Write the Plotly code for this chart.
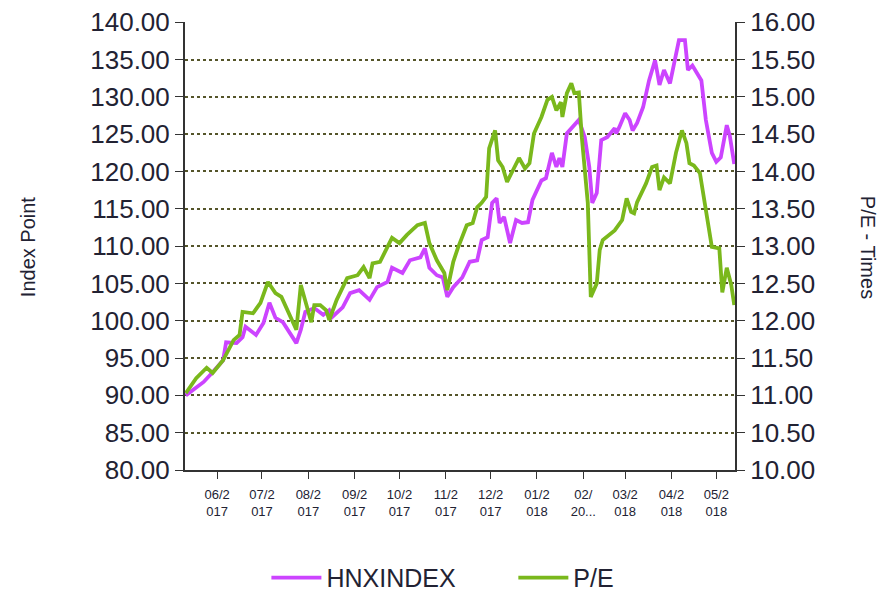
import plotly.graph_objects as go

hnx_dates = [
    "2017-05-11", "2017-05-23", "2017-05-29", "2017-06-05", "2017-06-07", "2017-06-14",
    "2017-06-18", "2017-06-20", "2017-06-27", "2017-07-02", "2017-07-06", "2017-07-10",
    "2017-07-15", "2017-07-20", "2017-07-24", "2017-07-27", "2017-07-30", "2017-08-05",
    "2017-08-11", "2017-08-15", "2017-08-17", "2017-08-24", "2017-08-29", "2017-09-04",
    "2017-09-11", "2017-09-16", "2017-09-23", "2017-09-26", "2017-10-03", "2017-10-08",
    "2017-10-15", "2017-10-18", "2017-10-21", "2017-10-26", "2017-10-30", "2017-11-02",
    "2017-11-06", "2017-11-12", "2017-11-17", "2017-11-22", "2017-11-25", "2017-11-29",
    "2017-12-02", "2017-12-05", "2017-12-07", "2017-12-10", "2017-12-14", "2017-12-18",
    "2017-12-22", "2017-12-26", "2017-12-29", "2018-01-04", "2018-01-07", "2018-01-11",
    "2018-01-14", "2018-01-16", "2018-01-18", "2018-01-21", "2018-01-26", "2018-01-29",
    "2018-02-02", "2018-02-05", "2018-02-07", "2018-02-10", "2018-02-13", "2018-02-17",
    "2018-02-22", "2018-02-23", "2018-02-25", "2018-03-01", "2018-03-04", "2018-03-06",
    "2018-03-09", "2018-03-13", "2018-03-17", "2018-03-21", "2018-03-24", "2018-03-27",
    "2018-03-31", "2018-04-03", "2018-04-06", "2018-04-10", "2018-04-12", "2018-04-15",
    "2018-04-18", "2018-04-21", "2018-04-24", "2018-04-28", "2018-05-01", "2018-05-04",
    "2018-05-08", "2018-05-10", "2018-05-13",
]
hnx_values = [
    90.0, 91.8, 93.1, 94.7, 97.1, 97.0,
    97.8, 99.2, 98.1, 99.7, 102.4, 100.4,
    99.8, 98.3, 97.0, 98.8, 101.2, 101.7,
    100.8, 101.4, 100.5, 101.8, 103.7, 104.1,
    102.8, 104.5, 105.2, 107.1, 106.4, 108.1,
    108.5, 109.7, 107.1, 106.1, 105.8, 103.2,
    104.5, 105.8, 107.9, 108.1, 110.8, 111.2,
    115.8, 116.4, 113.1, 113.9, 110.4, 113.5,
    113.1, 113.2, 116.2, 118.8, 119.1, 122.5,
    120.6, 121.8, 120.6, 125.1, 126.2, 126.9,
    124.6, 120.6, 115.8, 117.1, 124.2, 124.6,
    125.8, 125.1, 125.9, 127.8, 126.9, 125.5,
    126.5, 128.6, 132.2, 134.9, 131.6, 133.6,
    131.8, 134.9, 137.6, 137.6, 133.6, 134.2,
    133.2, 132.2, 126.9, 122.5, 121.3, 121.9,
    126.2, 124.8, 121.0,
]

pe_dates = [
    "2017-05-11", "2017-05-18", "2017-05-25", "2017-05-29", "2017-06-05", "2017-06-12",
    "2017-06-16", "2017-06-18", "2017-06-25", "2017-06-30", "2017-07-05", "2017-07-10",
    "2017-07-14", "2017-07-20", "2017-07-24", "2017-07-27", "2017-08-01", "2017-08-03",
    "2017-08-05", "2017-08-09", "2017-08-13", "2017-08-15", "2017-08-20", "2017-08-27",
    "2017-09-03", "2017-09-07", "2017-09-11", "2017-09-13", "2017-09-18", "2017-09-21",
    "2017-09-26", "2017-10-01", "2017-10-06", "2017-10-13", "2017-10-18", "2017-10-21",
    "2017-10-26", "2017-10-31", "2017-11-02", "2017-11-06", "2017-11-09", "2017-11-15",
    "2017-11-19", "2017-11-22", "2017-11-25", "2017-11-28", "2017-11-30", "2017-12-04",
    "2017-12-06", "2017-12-09", "2017-12-12", "2017-12-17", "2017-12-20", "2017-12-24",
    "2017-12-27", "2017-12-30", "2018-01-04", "2018-01-08", "2018-01-11", "2018-01-14",
    "2018-01-17", "2018-01-18", "2018-01-21", "2018-01-24", "2018-01-26", "2018-01-29",
    "2018-01-31", "2018-02-04", "2018-02-06", "2018-02-10", "2018-02-12", "2018-02-14",
    "2018-02-20", "2018-02-22", "2018-02-27", "2018-03-02", "2018-03-05", "2018-03-07",
    "2018-03-09", "2018-03-15", "2018-03-19", "2018-03-22", "2018-03-24", "2018-03-27",
    "2018-03-31", "2018-04-04", "2018-04-08", "2018-04-11", "2018-04-13", "2018-04-16",
    "2018-04-20", "2018-04-24", "2018-04-28", "2018-05-03", "2018-05-05", "2018-05-08",
    "2018-05-11", "2018-05-13",
]
pe_values = [
    11.03, 11.23, 11.37, 11.30, 11.47, 11.74,
    11.81, 12.12, 12.10, 12.24, 12.52, 12.37,
    12.32, 12.05, 11.88, 12.48, 12.14, 11.98,
    12.21, 12.21, 12.14, 12.01, 12.28, 12.57,
    12.61, 12.72, 12.57, 12.77, 12.79, 12.92,
    13.11, 13.04, 13.15, 13.28, 13.31, 13.04,
    12.81, 12.64, 12.41, 12.79, 12.97, 13.28,
    13.31, 13.52, 13.58, 13.66, 14.31, 14.55,
    14.15, 14.06, 13.86, 14.06, 14.18, 14.04,
    14.11, 14.51, 14.73, 14.96, 15.00, 14.82,
    14.93, 14.73, 15.05, 15.18, 15.05, 15.06,
    14.46, 13.58, 12.32, 12.50, 12.95, 13.08,
    13.17, 13.21, 13.35, 13.64, 13.46, 13.44,
    13.59, 13.84, 14.06, 14.08, 13.75, 13.92,
    13.84, 14.25, 14.55, 14.38, 14.11, 14.08,
    13.98, 13.48, 12.99, 12.97, 12.38, 12.71,
    12.48, 12.21,
]

month_ticks = [
    "2017-06-01", "2017-07-01", "2017-08-01", "2017-09-01", "2017-10-01", "2017-11-01",
    "2017-12-01", "2018-01-01", "2018-02-01", "2018-03-01", "2018-04-01", "2018-05-01",
]
month_labels = [
    "06/2<br>017", "07/2<br>017", "08/2<br>017", "09/2<br>017", "10/2<br>017", "11/2<br>017",
    "12/2<br>017", "01/2<br>018", "02/<br>20...", "03/2<br>018", "04/2<br>018", "05/2<br>018",
]

FONT = "Liberation Sans, Arial, sans-serif"
TXT = "#222233"
AX = "#333333"
GRID = "#55552a"

fig = go.Figure()
fig.add_trace(go.Scatter(
    x=hnx_dates, y=hnx_values, name="HNXINDEX", mode="lines",
    line=dict(color="#cc44ff", width=3.8), legend="legend",
))
fig.add_trace(go.Scatter(
    x=pe_dates, y=pe_values, name="P/E", mode="lines", yaxis="y2",
    line=dict(color="#7ab81c", width=3.8), legend="legend2",
))

legend_common = dict(
    orientation="h", yanchor="middle", y=-0.241, xanchor="left",
    font=dict(size=25, family=FONT, color=TXT), itemwidth=50,
    bgcolor="rgba(0,0,0,0)",
)

fig.update_layout(
    width=878, height=584,
    margin=dict(l=177, r=151, t=14, b=122, autoexpand=False),
    paper_bgcolor="white", plot_bgcolor="white",
    font=dict(family=FONT, color=TXT),
    showlegend=True,
    legend=dict(legend_common, x=0.148),
    legend2=dict(legend_common, x=0.597),
    xaxis=dict(
        type="date", range=["2017-05-10 12:00", "2018-05-13 12:00"],
        tickvals=month_ticks, ticktext=month_labels,
        ticks="outside", ticklen=7, tickcolor=AX, tickwidth=1,
        showline=True, linecolor=AX, linewidth=2,
        showgrid=False, zeroline=False, automargin=False,
        ticklabelstandoff=4,
        tickfont=dict(size=13, family=FONT, color=TXT),
    ),
    yaxis=dict(
        range=[80, 140.03], tick0=80, dtick=5, tickformat=".2f",
        ticks="outside", ticklen=8, tickcolor=AX,
        showline=True, linecolor=AX, linewidth=2,
        showgrid=True, gridcolor=GRID, griddash="dot", gridwidth=1.5,
        zeroline=False, automargin=False, ticklabeloverflow="allow",
        tickfont=dict(size=26, family=FONT, color=TXT),
    ),
    yaxis2=dict(
        range=[10, 16.003], tick0=10, dtick=0.5, tickformat=".2f",
        overlaying="y", side="right",
        ticks="outside", ticklen=8, tickcolor=AX,
        showline=True, linecolor=AX, linewidth=2,
        showgrid=False, zeroline=False, automargin=False, ticklabeloverflow="allow",
        tickfont=dict(size=26, family=FONT, color=TXT),
    ),
    annotations=[
        dict(text="Index Point", xref="paper", yref="paper", x=-0.285, y=0.498,
             textangle=-90, showarrow=False, font=dict(size=20, family=FONT, color=TXT),
             xanchor="center", yanchor="middle"),
        dict(text="P/E - Times", xref="paper", yref="paper", x=1.242, y=0.498,
             textangle=90, showarrow=False, font=dict(size=20, family=FONT, color=TXT),
             xanchor="center", yanchor="middle"),
    ],
)

fig.write_html("out.html")
